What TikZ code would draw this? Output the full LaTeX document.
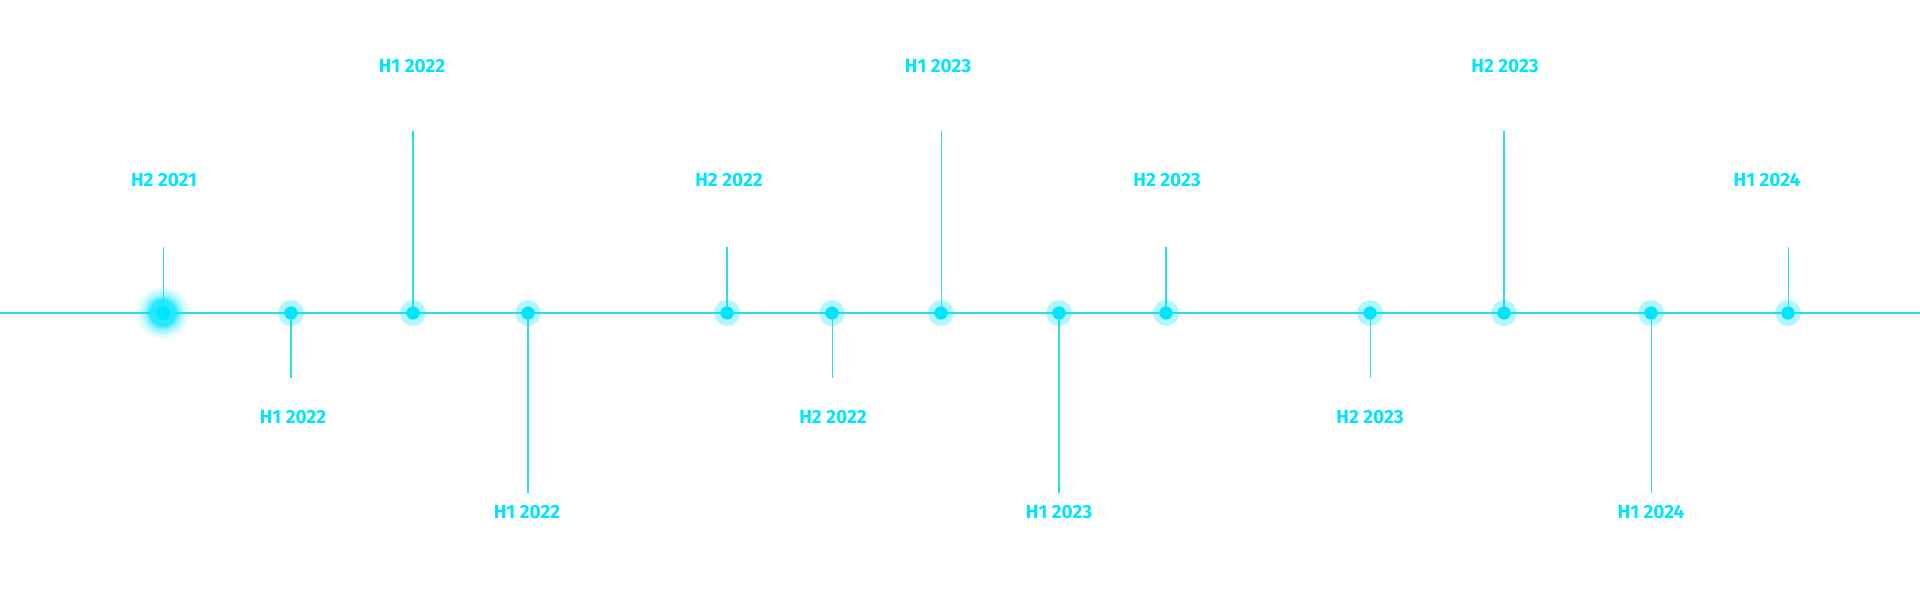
\documentclass[tikz,border=0pt]{standalone}
\usepackage{fontspec}
\setmainfont{Fira Sans}
\usepackage{tikz}
\usepackage{xcolor}

\definecolor{tlcyan}{HTML}{00E5FF}
\definecolor{tlline}{HTML}{2ADCF0}

\tikzset{
  tldot/.style={circle,fill=tlcyan,inner sep=0pt,minimum size=13pt},
  tllabel/.style={inner sep=0pt,text=tlcyan,font=\fontsize{19}{21}\selectfont\bfseries},
  tlstem/.style={draw=tlline}
}

\begin{document}
\begin{tikzpicture}[x=1pt,y=1pt]

\def\axisy{287}

\useasboundingbox (0,0) rectangle (1920,600);

% main axis
\coordinate (axL) at (0,\axisy);
\coordinate (axR) at (1920,\axisy);
\draw[tlline,line width=1.5pt] (axL) -- (axR);

% first milestone, glowing
\node[tldot,minimum size=14pt] (d1) at (163,\axisy) {};
\foreach \r/\o in {27/0.06,24/0.1,21/0.16,18/0.25,15.5/0.4}
  \fill[tlcyan,opacity=\o] (d1) circle (\r pt);
\fill[tlcyan!85!white] (d1) circle (13.5pt);
\coordinate (s1) at (163,353);
\draw[tlstem,line width=0.9pt] (d1.center) -- (s1);
\fill[tlcyan] (d1) circle (7pt);
\node[tllabel] (l1) at (164,420) {H2 2021};

% other milestones: x / stem end / label x / label y / width / text
\foreach \x/\ye/\xl/\yl/\w/\txt [count=\i from 2] in {
    291/222/293/183/2.0/H1 2022,
    413/469/412/534/1.6/H1 2022,
    528/107/527/88/1.6/H1 2022,
    727/353/729/420/1.8/H2 2022,
    832/222/833/183/0.9/H2 2022,
    941/469/938/534/1.0/H1 2023,
    1059/107/1059/88/1.2/H1 2023,
    1166/353/1167/420/1.8/H2 2023,
    1370/222/1370/183/0.9/H2 2023,
    1504/469/1505/534/1.8/H2 2023,
    1651/107/1651/88/1.0/H1 2024,
    1788/353/1767/420/0.8/H1 2024}{
  \fill[tlcyan,fill opacity=0.3] (\x,\axisy) circle (13pt);
  \coordinate (s\i) at (\x,\ye);
  \node[tldot] (d\i) at (\x,\axisy) {};
  \draw[tlstem,line width=\w pt] (d\i.center) -- (s\i);
  \fill[tlcyan] (d\i) circle (6.5pt);
  \node[tllabel] (l\i) at (\xl,\yl) {\txt};
}

\end{tikzpicture}
\end{document}
